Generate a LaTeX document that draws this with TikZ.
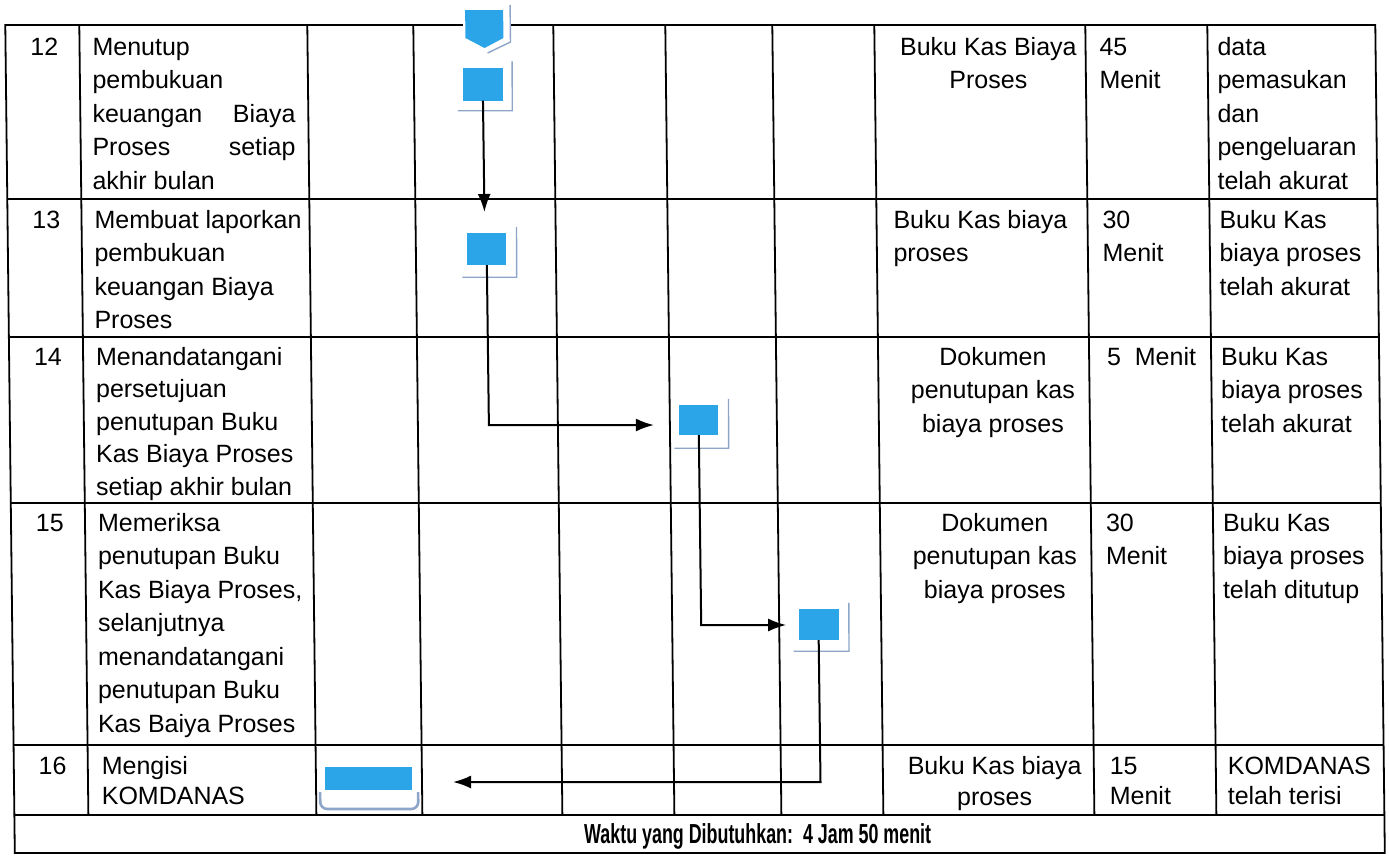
\documentclass[tikz,border=0pt]{standalone}
\usepackage{fontspec}
\setmainfont{Liberation Sans}
\newfontfamily\footfont[FakeStretch=0.65]{Liberation Sans}
\usetikzlibrary{arrows.meta,calc}
\definecolor{docblue}{RGB}{44,165,232}
\definecolor{docshade}{RGB}{140,165,200}
\newcommand\fstrut{\rule{0pt}{24pt}}
\begin{document}
\begin{tikzpicture}[x=1pt,y={(0.0115pt,-1pt)},
  grid/.style={line width=1.8pt,black},
  cell/.style={inner sep=0pt,anchor=north west,align=left,font=\fontsize{25}{33.5}\selectfont},
  ccell/.style={cell,anchor=north,align=center},
  docbox/.style={fill=docblue,draw=none,inner sep=0pt},
  shade/.style={draw=docshade,line width=1.4pt},
  flow/.style={line width=2pt,-{Latex[length=18pt,width=13pt]}}]
\useasboundingbox (canvas cs:x=0pt,y=0pt) rectangle (canvas cs:x=1389pt,y=-855pt);
\fill[white] (canvas cs:x=0pt,y=0pt) rectangle (canvas cs:x=1389pt,y=-855pt);
% grid
\draw[grid] (5,25) -- (1375,25) -- (1375,853) -- (5,853) -- cycle;
\foreach \yy in {199,337,503,745} \draw[grid] (5,\yy) -- (1375,\yy);
\draw[line width=2.6pt] (5,815) -- (1375,815);
\foreach \xx in {79,307,413,553,665,772,874,1085,1207} \draw[grid] (\xx,25) -- (\xx,815);
% row 12
\node[ccell] (n12) at (44,31) {\fstrut 12};
\node[cell] (t12) at (92,31) {\fstrut Menutup\\pembukuan\\\makebox[203pt]{keuangan\hfill Biaya}\\\makebox[203pt]{Proses\hfill setiap}\\akhir bulan};
\node[ccell] (b12) at (988,31) {\fstrut Buku Kas Biaya\\Proses};
\node[cell] (m12) at (1099,31) {\fstrut 45\\Menit};
\node[cell] (r12) at (1217,31) {\fstrut data\\pemasukan\\dan\\pengeluaran\\telah akurat};
% row 13
\node[ccell] (n13) at (44,204) {\fstrut 13};
\node[cell] (t13) at (92,204) {\fstrut Membuat laporkan\\pembukuan\\keuangan Biaya\\Proses};
\node[cell] (b13) at (891,204) {\fstrut Buku Kas biaya\\proses};
\node[cell] (m13) at (1100,204) {\fstrut 30\\Menit};
\node[cell] (r13) at (1217,204) {\fstrut Buku Kas\\biaya proses\\telah akurat};
% row 14
\node[ccell] (n14) at (44,341) {\fstrut 14};
\node[cell,font=\fontsize{25}{32.5}\selectfont] (t14) at (92,341) {\fstrut Menandatangani\\persetujuan\\penutupan Buku\\Kas Biaya Proses\\setiap akhir bulan};
\node[ccell] (b14) at (989,341) {\fstrut Dokumen\\penutupan kas\\biaya proses};
\node[cell] (m14) at (1103,341) {\fstrut 5\ \ Menit};
\node[cell] (r14) at (1217,341) {\fstrut Buku Kas\\biaya proses\\telah akurat};
% row 15
\node[ccell] (n15) at (44,507) {\fstrut 15};
\node[cell] (t15) at (92,507) {\fstrut Memeriksa\\penutupan Buku\\Kas Biaya Proses,\\selanjutnya\\menandatangani\\penutupan Buku\\Kas Baiya Proses};
\node[ccell] (b15) at (989,507) {\fstrut Dokumen\\penutupan kas\\biaya proses};
\node[cell] (m15) at (1100,507) {\fstrut 30\\Menit};
\node[cell] (r15) at (1217,507) {\fstrut Buku Kas\\biaya proses\\telah ditutup};
% row 16
\node[ccell] (n16) at (44,750) {\fstrut 16};
\node[cell,font=\fontsize{25}{30}\selectfont] (t16) at (93,750) {\fstrut Mengisi\\KOMDANAS};
\node[ccell,font=\fontsize{25}{31}\selectfont] (b16) at (986,750) {\fstrut Buku Kas biaya\\proses};
\node[cell,font=\fontsize{25}{30}\selectfont] (m16) at (1101,750) {\fstrut 15\\Menit};
\node[cell,font=\fontsize{25}{30}\selectfont] (r16) at (1219,750) {\fstrut KOMDANAS\\telah terisi};
% footer
\node[font=\footfont\bfseries\fontsize{27.5}{30}\selectfont,anchor=base,inner sep=0pt] (foot) at (748,843) {Waktu yang Dibutuhkan:\ \ 4 Jam 50 menit};
% off-page connector
\fill[white] (463,3) rectangle (509,56);
\fill[docblue] (465,10) -- (503,10) -- (503,38) -- (484,48) -- (465,38) -- cycle;
\draw[shade] (510,5) -- (510,42) -- (487,53);
% documents
\node[docbox,minimum width=40pt,minimum height=33pt] (d1) at (482,84) {};
\node[docbox,minimum width=39pt,minimum height=32pt] (d2) at (484,249) {};
\node[docbox,minimum width=39pt,minimum height=30pt] (d3) at (694,420) {};
\node[docbox,minimum width=40pt,minimum height=31pt] (d4) at (811.5,624.5) {};
\node[docbox,minimum width=87pt,minimum height=23pt] (d5) at (359.5,778.5) {};
\foreach \d/\r/\b in {d1/9/10,d2/10/12,d3/10/13,d4/10/11}{
  \draw[shade] ($(\d.north east)+(\r,-6)$) -- ($(\d.south east)+(\r,\b)$) -- ($(\d.south west)+(-5,\b)$);
}
\draw[shade,line width=2.6pt,rounded corners=7pt] (311,792) -- (311,809) -- (409,809) -- (409,792);
% connectors
\coordinate (a1) at (482,212);
\coordinate (k2) at (484,425);
\coordinate (a2) at (649,425);
\coordinate (k3) at (694,625);
\coordinate (a3) at (779,625);
\coordinate (k4) at (811.5,782);
\coordinate (a4) at (444,782);
\draw[flow] (d1.south) -- (a1);
\draw[flow] (d2.south) -- (k2) -- (a2);
\draw[flow] (d3.south) -- (k3) -- (a3);
\draw[flow] (d4.south) -- (k4) -- (a4);
\end{tikzpicture}
\end{document}
